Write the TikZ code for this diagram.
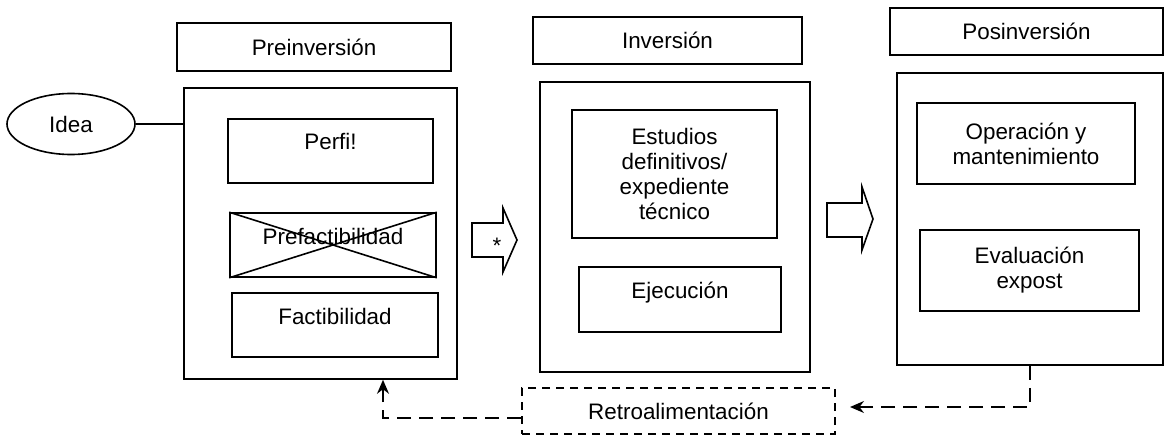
\documentclass[tikz,border=0pt]{standalone}
\usepackage{fontspec}
\setmainfont{Liberation Sans}
\usetikzlibrary{arrows.meta,shapes.geometric}

\begin{document}
\begin{tikzpicture}[x=1pt, y=-1pt, line width=1.6pt,
  every node/.style={font=\fontsize{22.4}{25}\selectfont},
  head/.style={draw, inner sep=0pt},
  outbox/.style={draw, inner sep=0pt},
  inbox/.style={draw, inner sep=0pt, align=center},
  topbox/.style={inbox, text height=16pt, text depth=18pt},
  fb/.style={dash pattern=on 14pt off 8pt, -{Stealth[length=14pt,width=12pt]}},
  retrobox/.style={draw, dash pattern=on 8pt off 6pt, inner sep=0pt}]
  \useasboundingbox (0,0) rectangle (1166,438);

  % Draw the phase titles
  \node[head, minimum width=274, minimum height=48] (prehead) at (314,47) {Preinversión};
  \node[head, minimum width=269, minimum height=47] (invhead) at (667.5,40.5) {Inversión};
  \node[head, minimum width=273, minimum height=47] (poshead) at (1026.5,31.5) {Posinversión};

  % Draw the phase boxes
  \node[outbox, minimum width=273, minimum height=291] (prebox) at (320.5,233.5) {};
  \node[outbox, minimum width=270, minimum height=290] (invbox) at (675,227) {};
  \node[outbox, minimum width=266, minimum height=292] (posbox) at (1030,219) {};

  % Preinversion stages
  \node[topbox, minimum width=205, minimum height=64] (perfil) at (330.5,151) {Perfi!};
  \node[topbox, minimum width=206, minimum height=64] (prefact) at (333,245) {Prefactibilidad};
  \draw (prefact.north west) -- (prefact.south east)
        (prefact.south west) -- (prefact.north east);
  \node[topbox, minimum width=206, minimum height=64] (fact) at (335,325) {Factibilidad};

  % Inversion stages
  \node[inbox, minimum width=205, minimum height=128] (estudios) at (674.5,174)
    {Estudios\\definitivos/\\expediente\\técnico};
  \node[topbox, minimum width=202, minimum height=65] (ejec) at (680,299.5) {Ejecución};

  % Posinversion stages
  \node[inbox, minimum width=218, minimum height=81] (oper) at (1026,143.5)
    {Operación y\\mantenimiento};
  \node[inbox, minimum width=219, minimum height=81] (evalu) at (1029.5,270.5)
    {Evaluación\\expost};

  % Idea
  \node[draw, ellipse, inner sep=0pt, minimum width=128, minimum height=61] (idea) at (71,124) {Idea};
  \draw (idea.east) -- (idea.east -| prebox.west);

  % Block arrows between phases
  \draw (472,223) -- (503,223) -- (503,208) -- (517,240) -- (503,272) -- (503,257) -- (472,257) -- cycle;
  \node (star) at (497,246) {*};
  \draw (827,203) -- (862,203) -- (862,187) -- (873,219) -- (862,250) -- (862,237) -- (827,237) -- cycle;

  % Feedback
  \node[retrobox, minimum width=313, minimum height=46] (retro) at (678.5,411) {Retroalimentación};
  \coordinate (fbtip) at (850,407);
  \draw[fb] (posbox.south) |- (fbtip);
  \draw[fb] ([yshift=-7pt]retro.west) -| ([xshift=62.5pt]prebox.south);
\end{tikzpicture}
\end{document}
